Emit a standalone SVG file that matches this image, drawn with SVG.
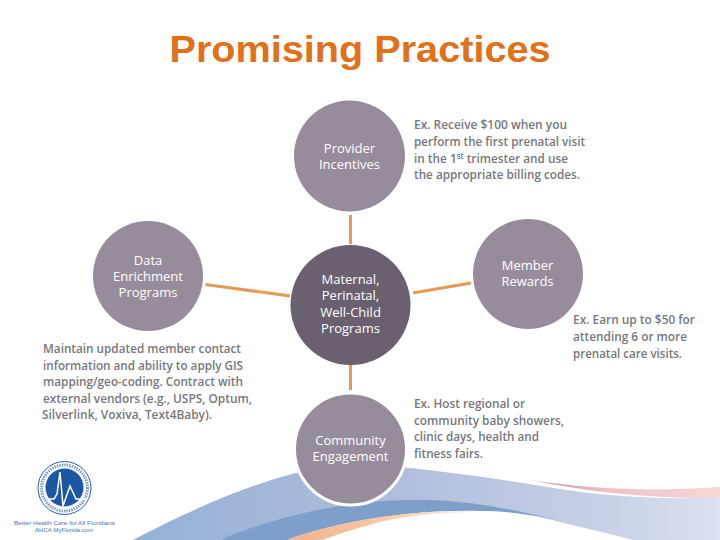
<svg xmlns="http://www.w3.org/2000/svg" width="720" height="540" viewBox="0 0 720 540">
<style>
.t{font-family:"Open Sans","Liberation Sans",sans-serif;font-size:13px;fill:#fff;text-anchor:middle}
.b{font-family:"Open Sans","Liberation Sans",sans-serif;font-size:12px;font-weight:600;fill:#77777c}
.c{fill:#978c9c}
.l{stroke:#e39a55;stroke-width:3;fill:none}
.lg{font-family:"Liberation Sans",sans-serif;font-size:6px;fill:#4f74b0;text-anchor:middle}
</style>
<defs>
<linearGradient id="g1" gradientUnits="userSpaceOnUse" x1="130" y1="0" x2="720" y2="0"><stop offset="0" stop-color="#94b0d6"/><stop offset=".45" stop-color="#b1bddc"/><stop offset=".8" stop-color="#c7d0e6"/><stop offset="1" stop-color="#dbe2f0"/></linearGradient>
<linearGradient id="g2" gradientUnits="userSpaceOnUse" x1="530" y1="0" x2="720" y2="0"><stop offset="0" stop-color="#c58aa6"/><stop offset=".4" stop-color="#eec0c4"/><stop offset="1" stop-color="#f6d9d6"/></linearGradient>
<linearGradient id="g3" gradientUnits="userSpaceOnUse" x1="287" y1="0" x2="480" y2="0"><stop offset="0" stop-color="#f2b189"/><stop offset=".6" stop-color="#f7cfae"/><stop offset="1" stop-color="#fdf0e4"/></linearGradient>
</defs>
<rect width="720" height="540" fill="#fff"/>
<g id="swoosh">
<path d="M530 480C590 489 650 492 720 487V498C650 499 590 492 530 480Z" fill="url(#g2)"/>
<path d="M133 540C190 510 245 486 296 473C335 466 375 465 410 468C460 473 510 481 560 489C610 497 670 500 720 497V540H633C600 531 570 525 545 518C500 505 440 498 400 500C340 505 270 520 220 540Z" fill="url(#g1)"/>
<path d="M220 540C270 518 340 502 400 500C450 498 500 505 563 522C530 514 505 511 480 511C420 509 340 520 287 540Z" fill="#7f9fcb"/>
<path d="M287 540C340 520 420 508 482 512C440 512 400 515 362 527C345 532 330 537 322 540Z" fill="url(#g3)"/>
</g>
<text x="360" y="62" font-family="Liberation Sans,Arial,sans-serif" font-size="37" font-weight="700" fill="#e0701a" text-anchor="middle" textLength="381" lengthAdjust="spacingAndGlyphs">Promising Practices</text>
<g id="connectors">
<line class="l" x1="350.500" y1="215" x2="350.500" y2="244"/>
<line class="l" x1="205.500" y1="284.500" x2="290" y2="296"/>
<line class="l" x1="413" y1="293" x2="471" y2="283"/>
<line class="l" x1="350.500" y1="364" x2="350.500" y2="390"/>
</g>
<g id="provider-incentives">
<circle class="c" cx="349.500" cy="156" r="55.500"/>
<text class="t" x="349.500" y="153">Provider</text>
<text class="t" x="349.500" y="169">Incentives</text>
</g>
<g id="data-enrichment">
<circle class="c" cx="148" cy="276" r="55"/>
<text class="t" x="148" y="265">Data</text>
<text class="t" x="148" y="281">Enrichment</text>
<text class="t" x="148" y="297">Programs</text>
</g>
<g id="maternal">
<circle cx="350.500" cy="305" r="60" fill="#6a6070"/>
<text class="t" x="350.500" y="284">Maternal,</text>
<text class="t" x="350.500" y="300">Perinatal,</text>
<text class="t" x="350.500" y="317">Well-Child</text>
<text class="t" x="350.500" y="333">Programs</text>
</g>
<g id="member-rewards">
<circle class="c" cx="528" cy="274" r="55"/>
<text class="t" x="527.500" y="270">Member</text>
<text class="t" x="527.500" y="286">Rewards</text>
</g>
<g id="community-engagement">
<circle class="c" cx="350.500" cy="449" r="56" stroke="#fff" stroke-width="3"/>
<text class="t" x="350.500" y="445">Community</text>
<text class="t" x="350.500" y="461">Engagement</text>
</g>
<g id="notes">
<text class="b" x="414" y="129" textLength="153" lengthAdjust="spacingAndGlyphs">Ex. Receive $100 when you</text>
<text class="b" x="414" y="146" textLength="171" lengthAdjust="spacingAndGlyphs">perform the first prenatal visit</text>
<text class="b" x="414" y="163" textLength="154" lengthAdjust="spacingAndGlyphs">in the 1<tspan font-size="8" dy="-4">st</tspan><tspan dy="4"> trimester and use</tspan></text>
<text class="b" x="414" y="179" textLength="166" lengthAdjust="spacingAndGlyphs">the appropriate billing codes.</text>
<text class="b" x="573" y="324" textLength="122" lengthAdjust="spacingAndGlyphs">Ex. Earn up to $50 for</text>
<text class="b" x="573" y="341" textLength="114" lengthAdjust="spacingAndGlyphs">attending 6 or more</text>
<text class="b" x="573" y="358" textLength="109" lengthAdjust="spacingAndGlyphs">prenatal care visits.</text>
<text class="b" x="414" y="408" textLength="111" lengthAdjust="spacingAndGlyphs">Ex. Host regional or</text>
<text class="b" x="414" y="425" textLength="150" lengthAdjust="spacingAndGlyphs">community baby showers,</text>
<text class="b" x="414" y="441" textLength="125" lengthAdjust="spacingAndGlyphs">clinic days, health and</text>
<text class="b" x="414" y="458" textLength="69" lengthAdjust="spacingAndGlyphs">fitness fairs.</text>
<text class="b" x="43" y="353" textLength="198" lengthAdjust="spacingAndGlyphs">Maintain updated member contact</text>
<text class="b" x="43" y="370" textLength="200" lengthAdjust="spacingAndGlyphs">information and ability to apply GIS</text>
<text class="b" x="43" y="386" textLength="200" lengthAdjust="spacingAndGlyphs">mapping/geo-coding. Contract with</text>
<text class="b" x="43" y="403" textLength="209" lengthAdjust="spacingAndGlyphs">external vendors (e.g., USPS, Optum,</text>
<text class="b" x="42" y="419" textLength="170" lengthAdjust="spacingAndGlyphs">Silverlink, Voxiva, Text4Baby).</text>
</g>
<g id="logo">
<circle cx="64.500" cy="488" r="26.500" fill="#fff" stroke="#2a5ea8" stroke-width="1"/>
<circle cx="64.500" cy="488" r="23" fill="none" stroke="#7f9cc8" stroke-width="3" stroke-dasharray="1.500 1"/>
<circle cx="64.500" cy="487.500" r="19" fill="#1c57a5"/>
<path d="M47 499H54L57 494L60 472L63 506L70 486L76 499H86" fill="none" stroke="#fff" stroke-width="1.500"/>
<text class="lg" x="64.500" y="525" textLength="101" lengthAdjust="spacingAndGlyphs">Better Health Care for All Floridians</text>
<text class="lg" x="64" y="532" textLength="58" lengthAdjust="spacingAndGlyphs">AHCA.MyFlorida.com</text>
</g>
</svg>
